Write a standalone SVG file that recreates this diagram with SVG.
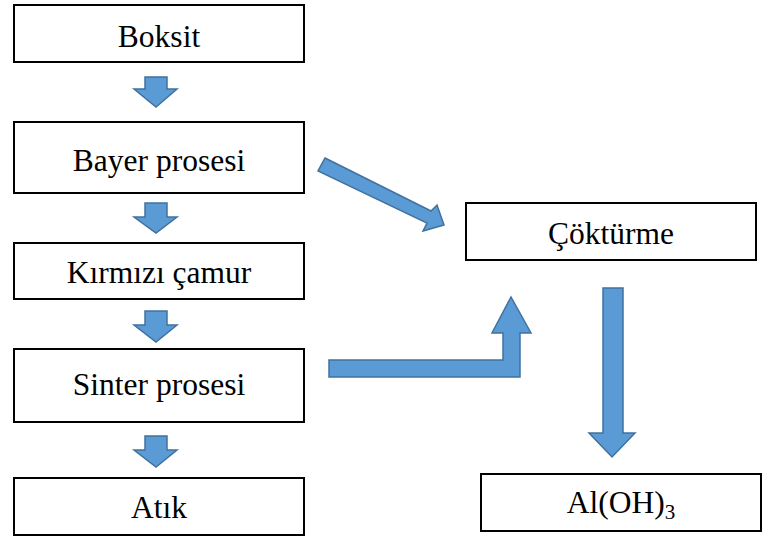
<svg xmlns="http://www.w3.org/2000/svg" width="763" height="538" viewBox="0 0 763 538">
<style>
.box{fill:#fff;stroke:#000;stroke-width:2}
.lbl{font-size:31.5px;fill:#000;text-anchor:middle}
.arr{fill:#5B9BD5;stroke:#41719C;stroke-width:1.5;stroke-linejoin:miter}
</style>
<rect width="763" height="538" fill="#fff"/>
<g font-family="'Liberation Serif', 'DejaVu Serif', serif">
<g id="boksit"><rect class="box" x="14" y="5" width="290" height="57"/><text class="lbl" x="159" y="47">Boksit</text></g>
<g id="bayer"><rect class="box" x="14" y="122" width="290" height="71"/><text class="lbl" x="159" y="171">Bayer prosesi</text></g>
<g id="kirmizi"><rect class="box" x="14" y="243" width="290" height="56"/><text class="lbl" x="159" y="283">Kırmızı çamur</text></g>
<g id="sinter"><rect class="box" x="14" y="349" width="290" height="73"/><text class="lbl" x="159" y="395">Sinter prosesi</text></g>
<g id="atik"><rect class="box" x="14" y="478" width="290" height="57"/><text class="lbl" x="159" y="518">Atık</text></g>
<g id="cokturme"><rect class="box" x="466" y="203" width="290" height="57"/><text class="lbl" x="611" y="244">Çöktürme</text></g>
<g id="aloh3"><rect class="box" x="481" y="474" width="280" height="57"/><text class="lbl" x="621" y="513">Al(OH)<tspan font-size="21" dy="6">3</tspan></text></g>
</g>
<g id="connectors">
<polygon class="arr" points="145,77 167,77 167,89 177,89 156,107 134,89 145,89"/>
<polygon class="arr" points="145,203 167,203 167,217 177,217 156,233 134,217 145,217"/>
<polygon class="arr" points="145,311 167,311 167,325 177,325 156,342 134,325 145,325"/>
<polygon class="arr" points="145,436 167,436 167,450 177,450 156,467 134,450 145,450"/>
<polygon class="arr" points="325,158 431,211 437,205 444,225 423,231 427,223 318,171"/>
<polygon class="arr" points="329,360 503,360 503,333 492,333 511,297 531,333 520,333 520,377 329,377"/>
<polygon class="arr" points="603,288 623,288 623,433 635,433 612,457 589,433 603,433"/>
</g>
</svg>
